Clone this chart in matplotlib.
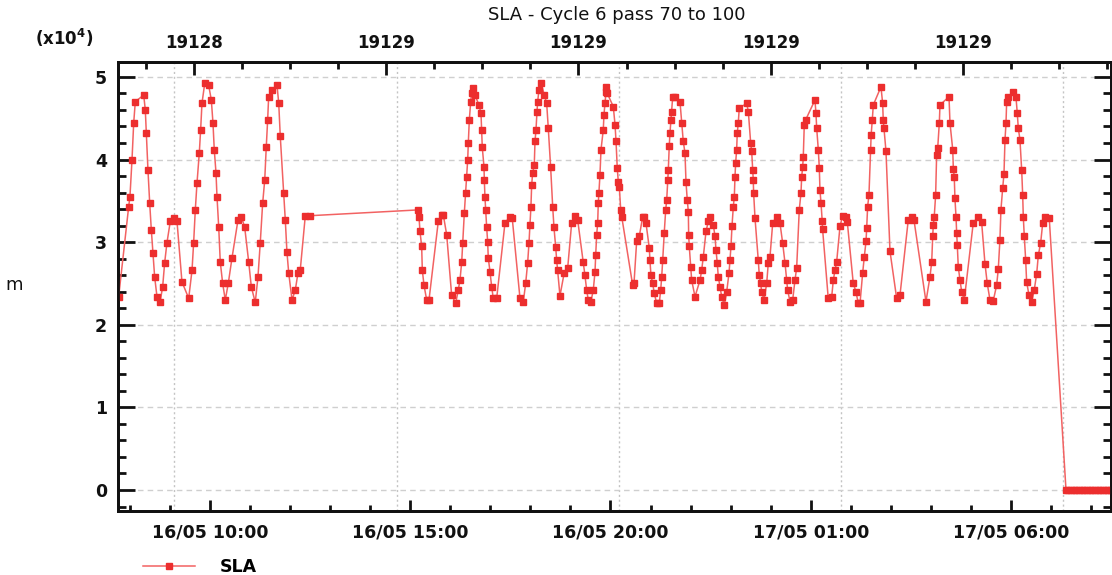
import matplotlib
matplotlib.use("Agg")
import matplotlib.pyplot as plt
import matplotlib.dates as mdates
import pandas as pd
from matplotlib.ticker import MultipleLocator, FixedLocator, FixedFormatter

# minutes after 16/05 08:00, SLA in units of 1e4 m
minutes = [
    -16.8, -1.8, 0.1, 3.2, 5.7, 8.1, 20.7, 23.1, 24.6, 27.1, 29.7, 32.1, 34.6, 37.1, 40.6, 45.1,
    49.1, 52.1, 55.5, 60.5, 65.6, 70.6, 78.0, 88.1,
    93.1, 95.5, 98.0, 100.5, 104.0, 106.0, 108.0, 112.1, 118.0, 122.0, 124.5, 126.4, 129.0, 130.5, 133.1, 135.4, 139.0, 142.9,
    147.4, 153.0, 162.0, 166.9, 172.0, 178.0, 181.9, 187.8,
    191.9, 195.3, 198.9, 202.0, 204.3, 206.4, 207.9, 212.9, 220.4, 223.0, 225.3, 230.4, 232.8, 235.3, 237.9, 242.9,
    247.8, 251.9, 255.2, 262.8, 270.3,
    432.0, 433.1, 434.6, 437.1, 438.1, 440.6, 444.6, 448.1,
    462.0, 467.1, 469.5, 474.6, 482.0, 488.1,
    491.9, 494.5, 497.1, 498.6, 501.0, 503.0, 504.5, 506.1, 507.0, 508.5, 510.6, 512.0, 513.5, 517.0, 522.9,
    526.0, 527.0, 527.9, 530.5, 531.0, 531.9, 533.0, 534.5, 536.0, 536.9, 539.5, 542.0, 544.4, 549.5,
    561.9, 569.5, 572.8, 584.4, 589.4,
    592.9, 595.9, 597.9, 599.4, 600.8, 601.9, 603.4, 605.8, 606.9, 608.4, 609.9, 610.9, 612.8, 615.9, 620.8,
    624.4, 626.8, 630.3, 633.4, 635.3, 637.9, 639.4, 640.8, 644.3,
    650.7, 655.9, 661.8, 666.8, 670.8, 679.2, 681.7, 684.3, 686.7, 690.7,
    694.2, 696.8, 697.8, 699.3, 700.8, 701.7, 702.7, 704.2, 705.8, 709.2, 710.2, 711.7, 713.2, 714.0, 715.2,
    724.2, 726.8, 728.3, 730.1, 731.7, 733.2, 735.3, 736.8, 753.2, 755.2,
    759.2, 763.1, 768.3, 770.6, 773.2, 778.1, 779.1, 780.6, 783.2, 785.6, 789.1, 793.1,
    795.2, 796.7, 798.2, 800.5, 802.7, 804.2, 805.7, 806.6, 808.0, 809.1, 810.6, 811.6, 813.2, 816.6, 824.1,
    826.7, 829.0, 831.6, 833.1, 835.0, 836.6, 837.1, 838.0, 840.1, 841.6, 846.6,
    854.1, 856.6, 859.0, 863.1, 866.5, 869.0, 874.0, 876.6, 878.0, 879.9, 881.5, 884.0, 886.6, 890.4,
    894.1, 897.6, 899.0, 900.5, 902.0, 904.0, 905.5, 906.5, 907.5, 909.0, 909.9, 911.4, 912.9, 924.0, 926.5,
    930.0, 931.5, 933.0, 933.9, 934.4, 936.5, 941.4, 942.9, 945.0, 946.5, 950.0,
    954.0, 956.4, 958.9, 963.0, 968.9, 973.9, 977.9, 981.4, 983.9, 985.4, 988.9, 992.9,
    996.4, 998.9, 1002.8, 1005.4, 1006.4, 1007.9, 1008.8, 1010.3, 1012.4, 1026.3,
    1027.8, 1028.9, 1031.3, 1032.8, 1033.8, 1035.4, 1037.2, 1037.7, 1046.2, 1051.4,
    1053.8, 1056.3, 1058.8, 1063.8, 1067.8, 1072.4, 1074.8, 1083.7, 1087.7, 1091.2, 1093.8,
    1097.8, 1100.2, 1102.8, 1103.8, 1105.2, 1107.2, 1109.8, 1110.5, 1112.2, 1113.7,
    1125.2, 1127.7, 1128.6, 1129.7, 1132.7, 1138.7, 1148.7, 1153.7,
    1166.1, 1171.2, 1174.6, 1192.6,
    1198.6, 1201.2, 1202.7, 1203.6, 1205.0, 1207.1, 1208.6, 1210.2, 1212.6, 1213.6, 1227.1, 1228.6,
    1232.7, 1233.6, 1235.0, 1236.0, 1237.6, 1238.6, 1239.5, 1241.0, 1243.6, 1246.1, 1250.0,
    1263.4, 1270.9, 1276.0, 1281.0, 1284.4, 1288.5, 1293.4,
    1298.5, 1301.0, 1303.4, 1304.9, 1307.5, 1309.5, 1311.0, 1312.5, 1313.5, 1315.9, 1323.4, 1327.4,
    1329.4, 1330.9, 1333.4, 1336.0, 1337.5, 1338.4, 1339.9, 1342.0, 1343.4, 1346.9, 1351.0,
    1354.8, 1358.5, 1360.9, 1364.4, 1367.5, 1370.9, 1377.3,
    1402.4, 1406, 1410, 1414, 1418, 1422, 1426, 1430, 1434, 1438, 1442, 1446, 1450, 1454, 1458,
    1462, 1466, 1470, 1474,
]
sla = [
    2.34, 3.43, 3.55, 4.00, 4.44, 4.70, 4.78, 4.60, 4.32, 3.87, 3.47, 3.15, 2.87, 2.58, 2.34, 2.27,
    2.46, 2.75, 2.99, 3.25, 3.29, 3.25, 2.52, 2.32,
    2.66, 2.99, 3.39, 3.71, 4.08, 4.36, 4.68, 4.92, 4.90, 4.72, 4.44, 4.12, 3.84, 3.55, 3.18, 2.76, 2.50, 2.30,
    2.50, 2.81, 3.27, 3.31, 3.18, 2.76, 2.46, 2.27,
    2.58, 2.99, 3.47, 3.75, 4.15, 4.48, 4.76, 4.84, 4.90, 4.68, 4.28, 3.60, 3.27, 2.88, 2.63, 2.30,
    2.42, 2.63, 2.66, 3.32, 3.32,
    3.39, 3.31, 3.13, 2.95, 2.66, 2.48, 2.30, 2.30,
    3.25, 3.33, 3.33, 3.09, 2.36, 2.26,
    2.42, 2.54, 2.76, 2.99, 3.35, 3.60, 3.79, 4.00, 4.20, 4.48, 4.70, 4.80, 4.86, 4.78, 4.66,
    4.56, 4.36, 4.15, 3.91, 3.75, 3.55, 3.39, 3.18, 3.00, 2.81, 2.64, 2.46, 2.32, 2.32,
    3.23, 3.31, 3.29, 2.32, 2.28,
    2.50, 2.75, 2.99, 3.21, 3.43, 3.69, 3.84, 3.93, 4.22, 4.36, 4.58, 4.70, 4.84, 4.93, 4.78,
    4.68, 4.38, 3.91, 3.43, 3.18, 2.94, 2.78, 2.66, 2.35,
    2.63, 2.69, 3.23, 3.32, 3.27, 2.76, 2.60, 2.42, 2.30, 2.28,
    2.42, 2.64, 2.84, 3.09, 3.23, 3.47, 3.60, 3.81, 4.12, 4.36, 4.54, 4.68, 4.82, 4.88, 4.80,
    4.64, 4.42, 4.22, 3.90, 3.73, 3.67, 3.39, 3.31, 2.48, 2.50,
    3.01, 3.07, 3.31, 3.31, 3.23, 2.93, 2.78, 2.60, 2.50, 2.38, 2.26, 2.26,
    2.42, 2.58, 2.78, 3.11, 3.39, 3.51, 3.75, 3.87, 4.16, 4.32, 4.48, 4.58, 4.76, 4.76, 4.70,
    4.44, 4.22, 4.08, 3.73, 3.51, 3.37, 3.09, 2.95, 2.70, 2.54, 2.34,
    2.54, 2.66, 2.82, 3.13, 3.25, 3.31, 3.21, 3.07, 2.91, 2.75, 2.58, 2.46, 2.34, 2.24,
    2.40, 2.63, 2.78, 2.95, 3.19, 3.43, 3.55, 3.79, 3.96, 4.12, 4.32, 4.44, 4.62, 4.68, 4.58,
    4.20, 4.10, 3.87, 3.75, 3.60, 3.29, 2.78, 2.60, 2.50, 2.40, 2.30,
    2.50, 2.75, 2.82, 3.23, 3.31, 3.23, 2.99, 2.75, 2.54, 2.42, 2.28, 2.30,
    2.54, 2.69, 3.39, 3.60, 3.79, 3.91, 4.03, 4.42, 4.48, 4.72,
    4.56, 4.38, 4.12, 3.90, 3.63, 3.47, 3.25, 3.16, 2.32, 2.34,
    2.54, 2.66, 2.76, 3.19, 3.32, 3.31, 3.24, 2.50, 2.40, 2.26, 2.26,
    2.63, 2.82, 3.01, 3.17, 3.43, 3.57, 4.12, 4.30, 4.48, 4.66,
    4.88, 4.68, 4.48, 4.38, 4.10, 2.89, 2.32, 2.36,
    3.27, 3.31, 3.27, 2.28,
    2.58, 2.76, 3.07, 3.21, 3.31, 3.57, 4.06, 4.14, 4.44, 4.66, 4.76, 4.44,
    4.12, 3.89, 3.79, 3.53, 3.31, 3.11, 2.97, 2.70, 2.54, 2.40, 2.30,
    3.23, 3.31, 3.24, 2.74, 2.50, 2.30, 2.29,
    2.48, 2.68, 3.03, 3.39, 3.65, 3.83, 4.24, 4.44, 4.70, 4.76, 4.82, 4.76,
    4.56, 4.38, 4.24, 3.87, 3.57, 3.31, 3.07, 2.78, 2.52, 2.36, 2.28,
    2.42, 2.62, 2.84, 2.99, 3.23, 3.31, 3.29,
    0, 0, 0, 0, 0, 0, 0, 0, 0, 0, 0, 0, 0, 0, 0,
    0, 0, 0, 0,
]

pass_edges = ["2022-05-16 09:06", "2022-05-16 14:40", "2022-05-16 20:12",
              "2022-05-17 01:46", "2022-05-17 07:18"]
bottom_ticks = ["2022-05-16 10:00", "2022-05-16 15:00", "2022-05-16 20:00",
                "2022-05-17 01:00", "2022-05-17 06:00"]
top_ticks = [19128.4, 19128.6, 19128.8, 19129.0, 19129.2]
top_labels = ["19128", "19129", "19129", "19129", "19129"]
x_range = ["2022-05-16 07:42:12", "2022-05-17 08:29:48"]

start = pd.Timestamp("2022-05-16 08:00")
times = start + pd.to_timedelta(minutes, unit="min")
xlim = mdates.date2num(pd.to_datetime(x_range))

plt.rcParams["font.family"] = "DejaVu Sans"
plt.rcParams["font.weight"] = "bold"

W, H = 1112, 575
fig = plt.figure(figsize=(W / 100, H / 100), dpi=100)
ax = fig.add_axes([118 / W, (H - 511) / H, (1111 - 118) / W, (511 - 62) / H])

ax.plot(times, sla, color="#f26262", lw=1.1, marker="s", ms=3.8,
        mfc="#ec2e2e", mec="#ec2e2e", label="SLA", zorder=3)

for edge in pass_edges:
    ax.axvline(pd.Timestamp(edge), color="#c4c4c4", ls=(0, (1.5, 2)), lw=1, zorder=1)
ax.yaxis.grid(True, color="#cfcfcf", ls=(0, (4, 3)), lw=1)

ax.set_xlim(xlim)
ax.set_ylim(-0.254, 5.18)
ax.xaxis.set_major_locator(FixedLocator(mdates.date2num(pd.to_datetime(bottom_ticks))))
ax.xaxis.set_major_formatter(mdates.DateFormatter("%d/%m %H:%M"))
ax.xaxis.set_minor_locator(mdates.HourLocator())
ax.yaxis.set_major_locator(MultipleLocator(1))
ax.yaxis.set_minor_locator(MultipleLocator(0.2))

ax.tick_params(which="both", direction="in", width=2, color="#111111",
               labelsize=12.5, labelcolor="#111111")
ax.tick_params(axis="y", which="major", length=12, right=True, pad=8)
ax.tick_params(axis="y", which="minor", length=6, right=True)
ax.tick_params(axis="x", which="major", length=8, pad=9)
ax.tick_params(axis="x", which="minor", length=4)

top = ax.twiny()
top.set_xlim(xlim)
top.xaxis.set_major_locator(FixedLocator(top_ticks))
top.xaxis.set_major_formatter(FixedFormatter(top_labels))
top.xaxis.set_minor_locator(MultipleLocator(0.05))
top.tick_params(which="both", direction="in", width=2, color="#111111",
                labelsize=12, labelcolor="#111111")
top.tick_params(which="major", length=9, pad=7)
top.tick_params(which="minor", length=5)

for a in (ax, top):
    for side in a.spines.values():
        side.set_linewidth(2)
        side.set_color("#111111")

fig.text(617 / W, 1 - 15 / H, "SLA - Cycle 6 pass 70 to 100", ha="center", va="center",
         fontsize=13, fontweight="normal", color="#111111")
fig.text(35 / W, 1 - 38 / H, r"(x10$^{4}$)", ha="left", va="center", fontsize=12,
         color="#111111")
fig.text(14 / W, 1 - 285 / H, "m", ha="center", va="center", fontsize=13,
         fontweight="normal", color="#111111")

fig.legend(loc="center left", bbox_to_anchor=(143 / W, 1 - 567 / H), frameon=False,
           fontsize=12.5, handlelength=3.0, handletextpad=1.4, borderpad=0,
           borderaxespad=0)

fig.savefig("out.png", dpi=100)
